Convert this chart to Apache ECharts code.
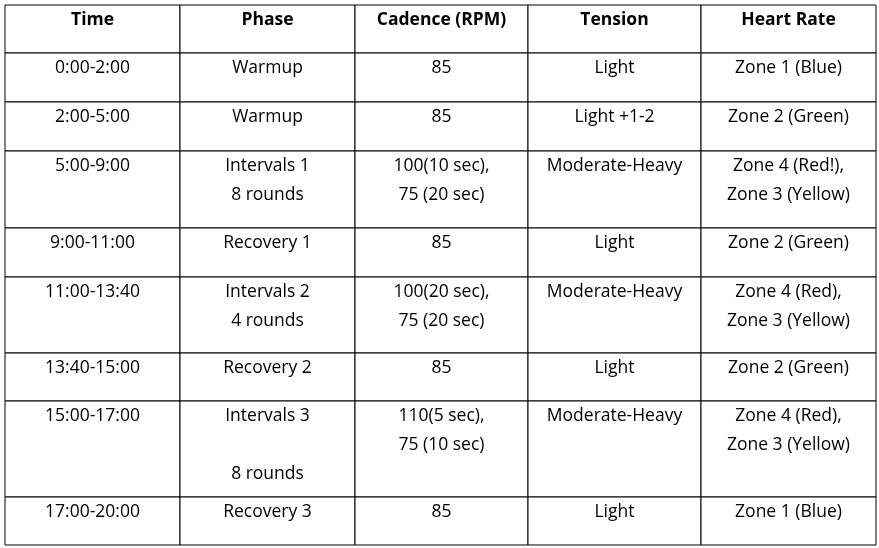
<!DOCTYPE html>
<html><head><meta charset="utf-8">
<script src="https://cdn.jsdelivr.net/npm/echarts@6/dist/echarts.min.js"></script>
<style>html,body{margin:0;background:#fff}#c{width:879px;height:548px}</style>
</head><body><div id="c"></div>
<script>
const headers = ["Time","Phase","Cadence (RPM)","Tension","Heart Rate"];
const times = ["0:00-2:00","2:00-5:00","5:00-9:00","9:00-11:00","11:00-13:40","13:40-15:00","15:00-17:00","17:00-20:00"];
const phases = ["Warmup","Warmup","Intervals 1\n8 rounds","Recovery 1","Intervals 2\n4 rounds","Recovery 2","Intervals 3\n\n8 rounds","Recovery 3"];
const cadence = ["85","85","100(10 sec),\n75 (20 sec)","85","100(20 sec),\n75 (20 sec)","85","110(5 sec),\n75 (10 sec)","85"];
const tension = ["Light","Light +1-2","Moderate-Heavy","Light","Moderate-Heavy","Light","Moderate-Heavy","Light"];
const heartRate = ["Zone 1 (Blue)","Zone 2 (Green)","Zone 4 (Red!),\nZone 3 (Yellow)","Zone 2 (Green)","Zone 4 (Red),\nZone 3 (Yellow)","Zone 2 (Green)","Zone 4 (Red),\nZone 3 (Yellow)","Zone 1 (Blue)"];

// layout (pixel grid of the table)
const colEdges = [5,180,355,528,701,876];
const rowEdges = [5,53,102,151,228,277,353,401,497,545];

const columns = [times, phases, cadence, tension, heartRate];
const data = [];
headers.forEach((h,c)=>data.push([c,0,h,1]));
for (let r=0;r<times.length;r++) for (let c=0;c<5;c++) data.push([c,r+1,columns[c][r],0]);

const chart = echarts.init(document.getElementById('c'));
chart.setOption({
  animation:false,
  grid:{left:0,right:0,top:0,bottom:0},
  xAxis:{type:'value',min:0,max:879,show:false},
  yAxis:{type:'value',min:0,max:548,inverse:true,show:false},
  series:[{
    type:'custom',
    data:data,
    renderItem:function(params,api){
      const c=api.value(0), r=api.value(1);
      const d=data[params.dataIndex];
      const p0=api.coord([colEdges[c],rowEdges[r]]);
      const p1=api.coord([colEdges[c+1],rowEdges[r+1]]);
      return {type:'group',children:[
        {type:'rect',shape:{x:p0[0],y:p0[1],width:p1[0]-p0[0],height:p1[1]-p0[1]},
         style:{fill:'#fff',stroke:'#000',lineWidth:1}},
        {type:'text',style:{text:d[2],x:(p0[0]+p1[0])/2,y:p0[1]+1,align:'center',verticalAlign:'top',
          font:(d[3]?'bold ':'')+'17.5px "Open Sans", sans-serif',lineHeight:29,fill:'#000'}}
      ]};
    }
  }]
});
</script></body></html>
